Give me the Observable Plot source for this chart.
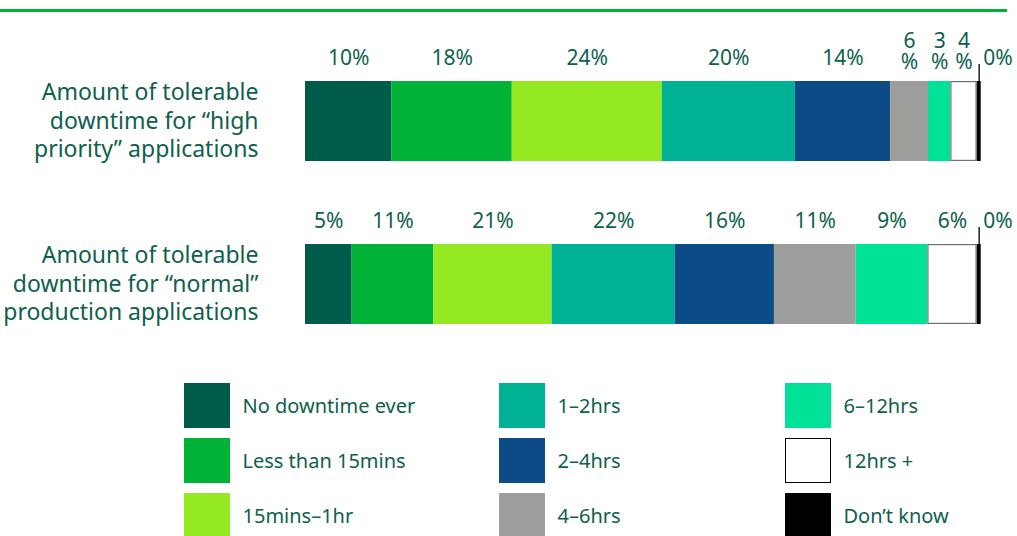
<!DOCTYPE html>
<html><head><meta charset="utf-8">
<script src="https://cdn.jsdelivr.net/npm/d3@7"></script>
<script src="https://cdn.jsdelivr.net/npm/@observablehq/plot@0.6"></script>
<style>
body{margin:0;background:#fff;font-family:"Noto Sans",sans-serif;}
#wrap{position:relative;width:1017px;height:536px;overflow:hidden;}
#chart{position:absolute;left:0;top:0;}
#topline{position:absolute;left:0;top:9px;width:1007px;height:2.5px;background:#00b336;}
.leg{position:absolute;display:flex;align-items:center;}
.sw{width:46px;height:45px;box-sizing:border-box;}
.lt{margin-left:12.5px;font-size:20px;color:#0e5f4b;white-space:nowrap;}
</style></head><body>
<div id="wrap"><div id="chart"></div><div id="topline"></div><div id="legend"></div></div>
<script>
// ---- data ----
const categories = ["high", "normal"];
const categoryLabels = [
  "Amount of tolerable\ndowntime for “high\npriority” applications",
  "Amount of tolerable\ndowntime for “normal”\nproduction applications"
];
const bands = ["No downtime ever", "Less than 15mins", "15mins–1hr", "1–2hrs", "2–4hrs", "4–6hrs", "6–12hrs", "12hrs +", "Don’t know"];
const bandColors = ["#005c4a", "#00b336", "#95e921", "#00b294", "#0b4c87", "#9d9d9b", "#00e297", "#ffffff", "#000000"];
// drawn segment widths (share of bar, %)
const highValues   = [12.8, 17.8, 22.2, 19.7, 14.1, 5.6, 3.3, 3.9, 0.6];
const normalValues = [6.9, 12.1, 17.5, 18.2, 14.7, 12.1, 10.6, 7.3, 0.6];
// printed labels
const highLabels   = ["10%", "18%", "24%", "20%", "14%", "6%", "3%", "4%", "0%"];
const normalLabels = ["5%", "11%", "21%", "22%", "16%", "11%", "9%", "6%", "0%"];

const textColor = "#0e5f4b";

// ---- build rows ----
const rows = [];
[[categories[0], highValues, highLabels], [categories[1], normalValues, normalLabels]].forEach(([cat, vals, labs]) => {
  let acc = 0;
  vals.forEach((v, i) => {
    rows.push({cat, band: bands[i], x1: acc, x2: acc + v, mid: acc + v / 2, value: v, label: labs[i], last: i === vals.length - 1});
    acc += v;
  });
});
const narrow = d => d.value < 6;
const wrapLabel = d => d.label.replace("%", "\n%");

const plot = Plot.plot({
  width: 1017,
  height: 370,
  marginLeft: 305,
  marginRight: 36.3,
  marginTop: 0,
  marginBottom: 0,
  x: {domain: [0, 100], axis: null},
  y: {domain: categories, range: [-4, 408], padding: 0.5122, axis: null},
  color: {domain: bands, range: bandColors},
  style: {fontFamily: "Noto Sans", color: textColor, background: "transparent", overflow: "visible"},
  marks: [
    Plot.barX(rows, {x1: "x1", x2: "x2", y: "cat", fill: "band"}),
    Plot.barX(rows.filter(d => d.band === "12hrs +"), {x1: "x1", x2: "x2", y: "cat", fill: "none", stroke: "#6f6f6f", strokeWidth: 1.2, inset: 0.6}),
    Plot.text(rows.filter(d => !d.last && !narrow(d)), {x: "mid", y: "cat", text: "label", lineAnchor: "bottom", dy: -56.5, fontSize: 21, fill: textColor}),
    Plot.text(rows.filter(d => !d.last && narrow(d)), {x: "mid", y: "cat", text: wrapLabel, lineAnchor: "bottom", lineHeight: 1.0, dy: -53, fontSize: 21, fill: textColor}),
    Plot.tickX(rows.filter(d => d.last), {x: "mid", y: "cat", insetBottom: 63, dy: -17, stroke: "#000", strokeWidth: 1.3}),
    Plot.text(rows.filter(d => d.last), {x: "mid", y: "cat", text: "label", textAnchor: "start", dx: 4, lineAnchor: "bottom", dy: -56.5, fontSize: 21, fill: textColor}),
    Plot.text(categories, {y: d => d, text: (d, i) => categoryLabels[i], frameAnchor: "left", textAnchor: "end", dx: -47, lineAnchor: "middle", lineHeight: 1.24, dy: -2, fontSize: 23, fill: textColor})
  ]
});
document.getElementById("chart").appendChild(plot);

// ---- legend ----
const legCols = [184, 499, 785];
const legRows = [383, 438, 493];
const legend = document.getElementById("legend");
bands.forEach((b, i) => {
  const item = document.createElement("div");
  item.className = "leg";
  item.style.left = legCols[Math.floor(i / 3)] + "px";
  item.style.top = legRows[i % 3] + "px";
  const sw = document.createElement("div");
  sw.className = "sw";
  sw.style.background = bandColors[i];
  if (bandColors[i] === "#ffffff") sw.style.border = "1.2px solid #000";
  const lt = document.createElement("div");
  lt.className = "lt";
  lt.textContent = b;
  item.appendChild(sw);
  item.appendChild(lt);
  legend.appendChild(item);
});
</script>
</body></html>
